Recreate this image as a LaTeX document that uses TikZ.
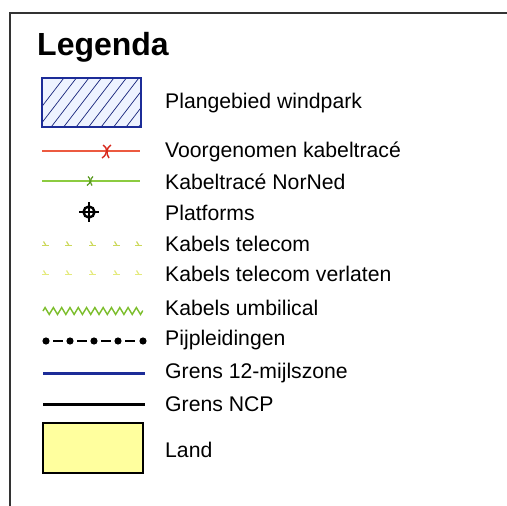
\documentclass[tikz,border=0pt]{standalone}
\usepackage{fontspec}
\setmainfont{Liberation Sans}
\usetikzlibrary{decorations.pathmorphing}
\definecolor{navy}{HTML}{1C2C98}
\definecolor{hatchfill}{HTML}{EEF3FF}
\definecolor{redline}{HTML}{EC5A40}
\definecolor{redmark}{HTML}{D8281C}
\definecolor{greenline}{HTML}{8CCB40}
\definecolor{greenmark}{HTML}{5A9A20}
\definecolor{telecom}{HTML}{CCD85A}
\definecolor{telecomold}{HTML}{E4EA7C}
\definecolor{umbil}{HTML}{7CBE2C}
\definecolor{landfill}{HTML}{FFFF9E}
\definecolor{framegray}{HTML}{333333}
\begin{document}
\begin{tikzpicture}[x=1pt,y=-1pt,
  label/.style={anchor=west,inner sep=0pt,font=\fontsize{21.2}{25}\selectfont},
  title/.style={anchor=base west,inner sep=0pt,font=\fontsize{32}{36}\selectfont\bfseries}]
\useasboundingbox (0,0) rectangle (507,506);
\fill[white] (0,0) rectangle (507,506);

% open frame: top and left edges only
\draw[framegray,line width=1.6pt] (10,506) -- (10,13) -- (507,13);

\node[title] (ttl) at (37,55) {Legenda};

% windpark area: hatched blue box
\begin{scope}
  \clip (42,78) rectangle (141,127);
  \fill[hatchfill] (42,78) rectangle (141,127);
  \foreach \i in {0,...,11}
    \draw[navy!80!black,line width=0.7pt] (20+\i*12.5,135) -- (70+\i*12.5,70);
\end{scope}
\draw[navy,line width=2pt] (42,78) rectangle (141,127);
\node[label] (t1) at (165,103) {Plangebied windpark};

% planned cable route
\draw[redline,line width=1.6pt] (42,151) -- (140,151);
\draw[redmark,line width=1.4pt] (103,145) .. controls (108,148) and (108,154) .. (102,158);
\draw[redmark,line width=1.4pt] (111,145) .. controls (106,148) and (106,154) .. (109,158);
\node[label] (t2) at (165,152) {Voorgenomen kabeltracé};

% NorNed cable route
\draw[greenline,line width=1.6pt] (42,181) -- (140,181);
\draw[greenmark,line width=1.2pt] (88,176.5) .. controls (91,179) and (91,183) .. (87,185.5);
\draw[greenmark,line width=1.2pt] (93,176.5) .. controls (90,179) and (90,183) .. (92,185.5);
\node[label] (t3) at (165,182) {Kabeltracé NorNed};

% platform symbol
\draw[black,line width=2.4pt] (89,212) circle (5.5);
\draw[black,line width=2.2pt] (79,212) -- (99,212) (89,202) -- (89,222);
\node[label] (t4) at (165,213) {Platforms};

% telecom cables
\foreach \x in {45,68,92,116,138} {
  \draw[telecom,line width=1.4pt] (\x-3,245.5) -- (\x+4,245.5);
  \draw[telecom,line width=1.2pt] (\x-1.5,241.5) -- (\x+1,245.5);
}
\node[label] (t5) at (165,244) {Kabels telecom};

% abandoned telecom cables
\foreach \x in {45,68,92,116,138} {
  \draw[telecomold,line width=1.4pt] (\x-3,274.5) -- (\x+4,274.5);
  \draw[telecomold,line width=1.2pt] (\x-1.5,270.5) -- (\x+1,274.5);
}
\node[label] (t6) at (165,274) {Kabels telecom verlaten};

% umbilical cables
\draw[umbil,line width=1.4pt,decorate,
  decoration={zigzag,segment length=8.3pt,amplitude=3.5pt}]
  (43,311) -- (143,311);
\node[label] (t7) at (165,308) {Kabels umbilical};

% pipelines: dot, dash, dot ...
\foreach \x in {46,70,94,118}
  \draw[black,line width=1.8pt] (\x+7,341) -- (\x+17,341);
\foreach \x in {46,70,94,118,143}
  \fill[black] (\x,341) circle (3.6);
\node[label] (t8) at (165,340) {Pijpleidingen};

% 12-mile zone boundary
\draw[navy,line width=3pt] (43,373) -- (145,373);
\node[label] (t9) at (165,373) {Grens 12-mijlszone};

% NCP boundary
\draw[black,line width=3pt] (43,404) -- (145,404);
\node[label] (t10) at (165,404) {Grens NCP};

% land
\draw[black,fill=landfill,line width=1.6pt] (43,423) rectangle (143,473);
\node[label] (t11) at (165,450) {Land};
\end{tikzpicture}
\end{document}
